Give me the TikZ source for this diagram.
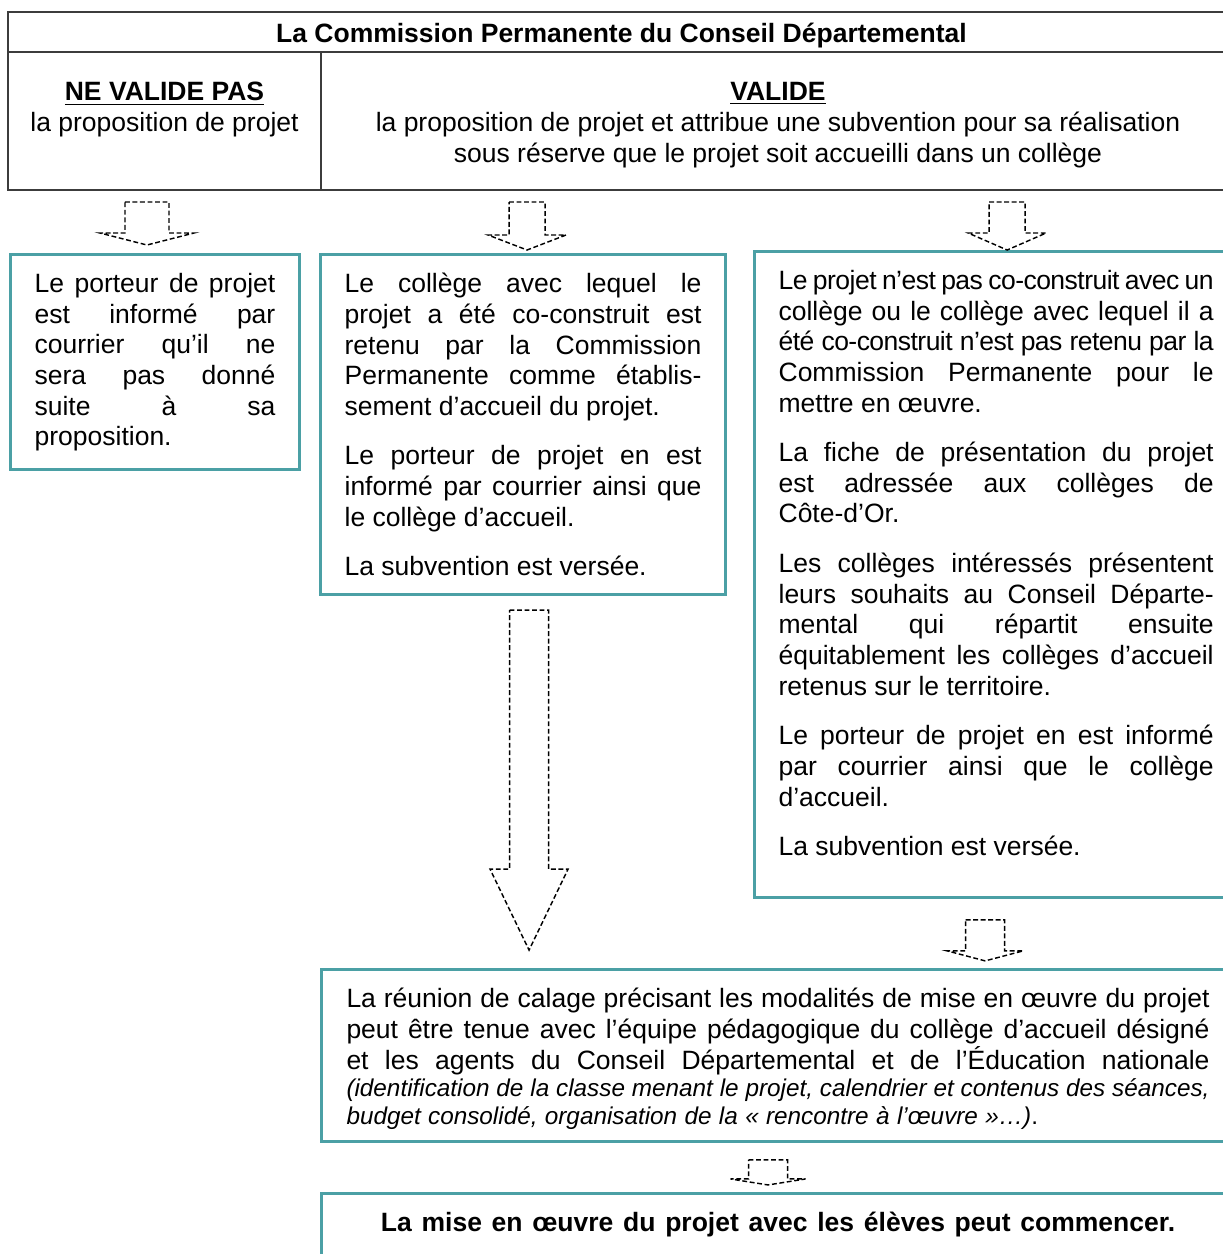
\documentclass[tikz,border=0pt]{standalone}
\usepackage{fontspec}
\setmainfont{Liberation Sans}
\usetikzlibrary{calc}
\definecolor{sarcelle}{RGB}{75,160,165}
\definecolor{trait}{RGB}{60,60,60}
\tikzset{
    %Define style for the teal boxes
    cadre/.style={
      rectangle,
      draw=sarcelle, line width=1.4pt,
      inner xsep=10.9pt, inner ysep=8.4pt,
      anchor=north west,
      align=justify,
      font=\fontsize{12}{13.9}\selectfont,
      execute at begin node={\parindent=0pt\parskip=8.5pt\frenchspacing
        \spaceskip=3.34pt plus 12pt minus 1.6pt\pretolerance=-1
        \hyphenpenalty=10000\exhyphenpenalty=10000\tolerance=10000}},
    % Define style for the table texts
    entete/.style={
      inner sep=0pt,
      align=center,
      font=\fontsize{12}{13.9}\selectfont},
    % Define dashed block arrows
    pointille/.style={
      black,
      line width=0.65pt,
      dash pattern=on 2.2pt off 1.2pt},
    pics/flechebas/.style args={#1/#2/#3/#4}{code={
      \draw[pointille] (-#1,0) -- (#1,0) -- (#1,#3) -- (#2,#3) -- (0,#4) -- (-#2,#3) -- (-#1,#3) -- cycle;
    }}
}

\begin{document}
\begin{tikzpicture}[x=0.4528pt, y=-0.4528pt]
    \useasboundingbox (0,0) rectangle (1223,1254);

    % table
    \draw[trait, line width=0.7pt] (8,12) rectangle (1240,190);
    \draw[trait, line width=0.7pt] (8,52) -- (1240,52);
    \draw[trait, line width=0.7pt] (321,52) -- (321,190);
    \node[entete, anchor=base] (commission) at (621.5,42.5)
      {\textbf{La Commission Permanente du Conseil Départemental}};
    \node[entete, anchor=north] (refus) at (164.5,82)
      {\underline{\textbf{NE VALIDE PAS}}\\la proposition de projet};
    \node[entete, anchor=north] (accord) at (778,82)
      {\underline{\textbf{VALIDE}}\\la proposition de projet et attribue une subvention pour sa réalisation\\sous réserve que le projet soit accueilli dans un collège};

    % boxes
    \node[cadre, text width=109pt] (cas1) at (9,253)
      {Le porteur de projet\linebreak est informé par\linebreak courrier qu’il ne\linebreak sera pas donné\linebreak suite à sa\linebreak proposition.};
    \node[cadre, text width=161.6pt] (cas2) at (319,253)
      {Le collège avec lequel le\linebreak projet a été co-construit est\linebreak retenu par la Commission\linebreak Permanente comme établis-\linebreak sement d’accueil du projet.\par
       Le porteur de projet en est\linebreak informé par courrier ainsi que\linebreak le collège d’accueil.\par
       La subvention est versée.};
    \node[cadre, text width=197pt] (cas3) at (753,250)
      {{\addfontfeatures{LetterSpace=-2}Le projet n’est pas co-construit avec un}\linebreak collège ou le collège avec lequel il a\linebreak {\addfontfeatures{LetterSpace=-2}été co-construit n’est pas retenu par la}\linebreak Commission Permanente pour le\linebreak mettre en œuvre.\par
       La fiche de présentation du projet\linebreak est adressée aux collèges de\linebreak Côte-d’Or.\par
       Les collèges intéressés présentent\linebreak leurs souhaits au Conseil Départe-\linebreak mental qui répartit ensuite\linebreak équitablement les collèges d’accueil\linebreak retenus sur le territoire.\par
       Le porteur de projet en est informé\linebreak par courrier ainsi que le collège\linebreak d’accueil.\par
       La subvention est versée.\par\vskip10.4pt\nointerlineskip\null};
    \node[cadre, text width=390.8pt, inner xsep=11.3pt] (calage) at (320,968)
      {La réunion de calage précisant les modalités de mise en œuvre du projet\linebreak peut être tenue avec l’équipe pédagogique du collège d’accueil désigné\linebreak et les agents du Conseil Départemental et de l’Éducation nationale{\parfillskip=0pt\par}
       \parskip=0pt\fontsize{11}{12.65}\selectfont\itshape (identification de la classe menant le projet, calendrier et contenus des séances,\linebreak budget consolidé, organisation de la «~rencontre à l’œuvre~»…)\upshape.\par\vskip-3.2pt\nointerlineskip\null};
    \node[cadre, text width=390.8pt, inner xsep=11.3pt, align=center] (debut) at (320,1192)
      {\spaceskip=0pt\textbf{La mise en œuvre du projet avec les élèves peut commencer.}\par\vskip20pt\nointerlineskip\null};

    % arrows
    \pic at ($(cas1.north)+(-8,-51)$) {flechebas=22/47/31/43};
    \pic at ($(cas2.north)+(4,-51)$) {flechebas=18/39/33/48};
    \pic at ($(cas3.north)+(11,-48)$) {flechebas=18/39/31/48};
    \pic at ($(cas2.south)+(6,14)$) {flechebas=19.5/39/259/340};
    \pic at ($(cas3.south)+(-11,21)$) {flechebas=19.5/38/31/41};
    \pic at ($(calage.south)+(-10,17)$) {flechebas=19.5/37.5/19/25};
\end{tikzpicture}
\end{document}
